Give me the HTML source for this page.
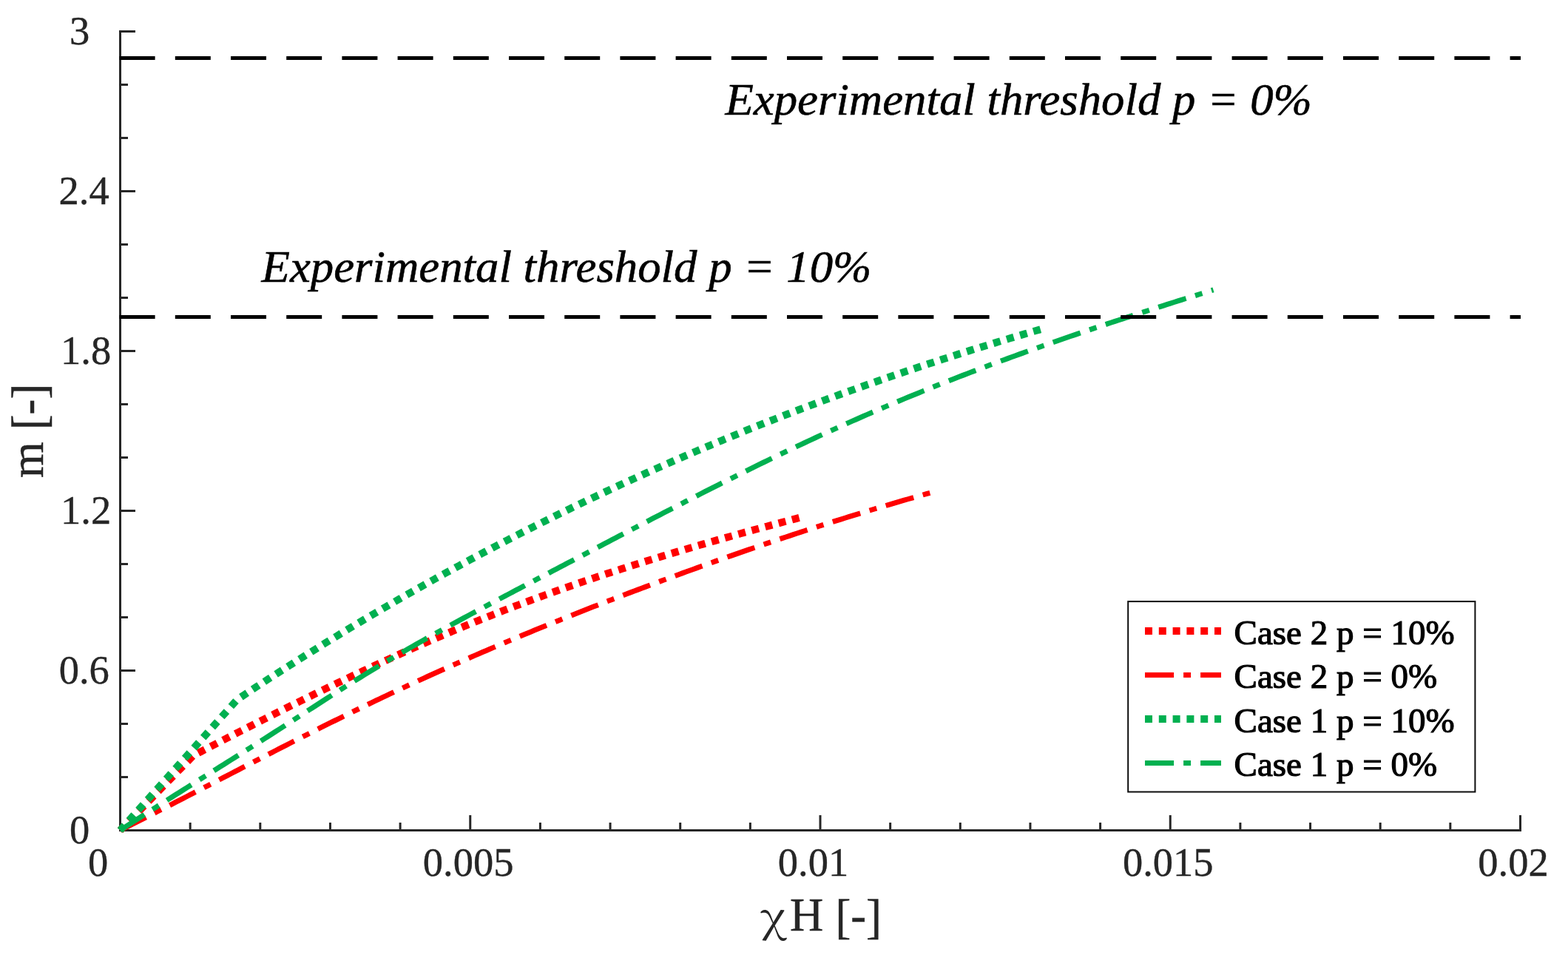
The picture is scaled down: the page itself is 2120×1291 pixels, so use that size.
<!DOCTYPE html>
<html><head><meta charset="utf-8"><title>m vs chiH</title>
<style>html,body{margin:0;padding:0;background:#fff;overflow:hidden}svg{display:block}</style></head>
<body><svg width="2120" height="1291" viewBox="0 0 2120 1291">
<rect width="2120" height="1291" fill="#fff"/>
<g font-family="'Liberation Serif', 'Times New Roman', serif">
<line x1="162.5" y1="42.5" x2="183" y2="42.5" stroke="#262626" stroke-width="3"/>
<line x1="162.5" y1="258.5" x2="183" y2="258.5" stroke="#262626" stroke-width="3"/>
<line x1="162.5" y1="474.5" x2="183" y2="474.5" stroke="#262626" stroke-width="3"/>
<line x1="162.5" y1="690.5" x2="183" y2="690.5" stroke="#262626" stroke-width="3"/>
<line x1="162.5" y1="906.5" x2="183" y2="906.5" stroke="#262626" stroke-width="3"/>
<line x1="162.5" y1="1122.5" x2="183" y2="1122.5" stroke="#262626" stroke-width="3"/>
<line x1="162.5" y1="114.5" x2="173" y2="114.5" stroke="#262626" stroke-width="3"/>
<line x1="162.5" y1="186.5" x2="173" y2="186.5" stroke="#262626" stroke-width="3"/>
<line x1="162.5" y1="330.5" x2="173" y2="330.5" stroke="#262626" stroke-width="3"/>
<line x1="162.5" y1="402.5" x2="173" y2="402.5" stroke="#262626" stroke-width="3"/>
<line x1="162.5" y1="546.5" x2="173" y2="546.5" stroke="#262626" stroke-width="3"/>
<line x1="162.5" y1="618.5" x2="173" y2="618.5" stroke="#262626" stroke-width="3"/>
<line x1="162.5" y1="762.5" x2="173" y2="762.5" stroke="#262626" stroke-width="3"/>
<line x1="162.5" y1="834.5" x2="173" y2="834.5" stroke="#262626" stroke-width="3"/>
<line x1="162.5" y1="978.5" x2="173" y2="978.5" stroke="#262626" stroke-width="3"/>
<line x1="162.5" y1="1050.5" x2="173" y2="1050.5" stroke="#262626" stroke-width="3"/>
<line x1="162.50" y1="1122.5" x2="162.50" y2="1102" stroke="#262626" stroke-width="3"/>
<line x1="257.15" y1="1122.5" x2="257.15" y2="1112" stroke="#262626" stroke-width="3"/>
<line x1="351.80" y1="1122.5" x2="351.80" y2="1112" stroke="#262626" stroke-width="3"/>
<line x1="446.45" y1="1122.5" x2="446.45" y2="1112" stroke="#262626" stroke-width="3"/>
<line x1="541.10" y1="1122.5" x2="541.10" y2="1112" stroke="#262626" stroke-width="3"/>
<line x1="635.75" y1="1122.5" x2="635.75" y2="1102" stroke="#262626" stroke-width="3"/>
<line x1="730.40" y1="1122.5" x2="730.40" y2="1112" stroke="#262626" stroke-width="3"/>
<line x1="825.05" y1="1122.5" x2="825.05" y2="1112" stroke="#262626" stroke-width="3"/>
<line x1="919.70" y1="1122.5" x2="919.70" y2="1112" stroke="#262626" stroke-width="3"/>
<line x1="1014.35" y1="1122.5" x2="1014.35" y2="1112" stroke="#262626" stroke-width="3"/>
<line x1="1109.00" y1="1122.5" x2="1109.00" y2="1102" stroke="#262626" stroke-width="3"/>
<line x1="1203.65" y1="1122.5" x2="1203.65" y2="1112" stroke="#262626" stroke-width="3"/>
<line x1="1298.30" y1="1122.5" x2="1298.30" y2="1112" stroke="#262626" stroke-width="3"/>
<line x1="1392.95" y1="1122.5" x2="1392.95" y2="1112" stroke="#262626" stroke-width="3"/>
<line x1="1487.60" y1="1122.5" x2="1487.60" y2="1112" stroke="#262626" stroke-width="3"/>
<line x1="1582.25" y1="1122.5" x2="1582.25" y2="1102" stroke="#262626" stroke-width="3"/>
<line x1="1676.90" y1="1122.5" x2="1676.90" y2="1112" stroke="#262626" stroke-width="3"/>
<line x1="1771.55" y1="1122.5" x2="1771.55" y2="1112" stroke="#262626" stroke-width="3"/>
<line x1="1866.20" y1="1122.5" x2="1866.20" y2="1112" stroke="#262626" stroke-width="3"/>
<line x1="1960.85" y1="1122.5" x2="1960.85" y2="1112" stroke="#262626" stroke-width="3"/>
<line x1="2055.50" y1="1122.5" x2="2055.50" y2="1102" stroke="#262626" stroke-width="3"/>
<line x1="162.5" y1="41" x2="162.5" y2="1124" stroke="#262626" stroke-width="3"/>
<line x1="161" y1="1122.5" x2="2057" y2="1122.5" stroke="#262626" stroke-width="3"/>
<path d="M162.50 1122.50 L261.31 1021.42 L266.31 1018.81 L271.31 1016.20 L276.31 1013.60 L281.31 1011.01 L286.31 1008.42 L291.31 1005.83 L296.31 1003.24 L301.31 1000.66 L306.31 998.09 L311.31 995.51 L316.31 992.95 L321.31 990.38 L326.31 987.83 L331.31 985.27 L336.31 982.73 L341.31 980.18 L346.31 977.65 L351.31 975.11 L356.31 972.59 L361.31 970.07 L366.31 967.55 L371.31 965.04 L376.31 962.54 L381.31 960.04 L386.31 957.55 L391.31 955.06 L396.31 952.58 L401.31 950.11 L406.31 947.64 L411.31 945.18 L416.31 942.73 L421.31 940.28 L426.31 937.84 L431.31 935.41 L436.31 932.98 L441.31 930.57 L446.31 928.16 L451.31 925.75 L456.31 923.36 L461.31 920.97 L466.31 918.59 L471.31 916.22 L476.31 913.85 L481.31 911.50 L486.31 909.15 L491.31 906.81 L496.31 904.48 L501.31 902.16 L506.31 899.84 L511.31 897.54 L516.31 895.24 L521.31 892.96 L526.31 890.68 L531.31 888.41 L536.31 886.15 L541.31 883.90 L546.31 881.66 L551.31 879.43 L556.31 877.21 L561.31 875.00 L566.31 872.80 L571.31 870.61 L576.31 868.43 L581.31 866.26 L586.31 864.10 L591.31 861.95 L596.31 859.81 L601.31 857.69 L606.31 855.57 L611.31 853.46 L616.31 851.37 L621.31 849.29 L626.31 847.22 L631.31 845.15 L636.31 843.11 L641.31 841.07 L646.31 839.04 L651.31 837.03 L656.31 835.03 L661.31 833.04 L666.31 831.06 L671.31 829.10 L676.31 827.14 L681.31 825.20 L686.31 823.27 L691.31 821.36 L696.31 819.45 L701.31 817.56 L706.31 815.67 L711.31 813.80 L716.31 811.94 L721.31 810.09 L726.31 808.26 L731.31 806.43 L736.31 804.62 L741.31 802.81 L746.31 801.02 L751.31 799.23 L756.31 797.46 L761.31 795.70 L766.31 793.94 L771.31 792.20 L776.31 790.47 L781.31 788.75 L786.31 787.03 L791.31 785.33 L796.31 783.64 L801.31 781.95 L806.31 780.28 L811.31 778.62 L816.31 776.96 L821.31 775.31 L826.31 773.68 L831.31 772.05 L836.31 770.43 L841.31 768.82 L846.31 767.21 L851.31 765.62 L856.31 764.04 L861.31 762.46 L866.31 760.89 L871.31 759.33 L876.31 757.78 L881.31 756.23 L886.31 754.69 L891.31 753.17 L896.31 751.64 L901.31 750.13 L906.31 748.62 L911.31 747.12 L916.31 745.63 L921.31 744.15 L926.31 742.67 L931.31 741.20 L936.31 739.73 L941.31 738.27 L946.31 736.82 L951.31 735.38 L956.31 733.94 L961.31 732.51 L966.31 731.08 L971.31 729.66 L976.31 728.25 L981.31 726.84 L986.31 725.44 L991.31 724.04 L996.31 722.65 L1001.31 721.26 L1006.31 719.88 L1011.31 718.51 L1016.31 717.14 L1021.31 715.77 L1026.31 714.41 L1031.31 713.06 L1036.31 711.71 L1041.31 710.36 L1046.31 709.02 L1051.31 707.68 L1056.31 706.35 L1061.31 705.02 L1066.31 703.70 L1071.31 702.38 L1076.31 701.06 L1081.31 699.75 L1081.50 699.70" fill="none" stroke="#ff0000" stroke-width="10" stroke-dasharray="10 8.8" stroke-dashoffset="1.4" stroke-linejoin="miter"/>
<path d="M162.50 1122.50 L167.50 1119.91 L172.50 1117.42 L177.50 1114.92 L182.50 1112.41 L187.50 1109.90 L192.50 1107.38 L197.50 1104.85 L202.50 1102.32 L207.50 1099.79 L212.50 1097.24 L217.50 1094.70 L222.50 1092.15 L227.50 1089.59 L232.50 1087.03 L237.50 1084.47 L242.50 1081.90 L247.50 1079.33 L252.50 1076.76 L257.50 1074.18 L262.50 1071.61 L267.50 1069.03 L272.50 1066.44 L277.50 1063.86 L282.50 1061.27 L287.50 1058.68 L292.50 1056.10 L297.50 1053.51 L302.50 1050.92 L307.50 1048.33 L312.50 1045.74 L317.50 1043.15 L322.50 1040.56 L327.50 1037.97 L332.50 1035.38 L337.50 1032.80 L342.50 1030.21 L347.50 1027.63 L352.50 1025.05 L357.50 1022.47 L362.50 1019.89 L367.50 1017.32 L372.50 1014.75 L377.50 1012.18 L382.50 1009.62 L387.50 1007.06 L392.50 1004.50 L397.50 1001.95 L402.50 999.41 L407.50 996.86 L412.50 994.33 L417.50 991.80 L422.50 989.27 L427.50 986.75 L432.50 984.24 L437.50 981.73 L442.50 979.23 L447.50 976.73 L452.50 974.25 L457.50 971.77 L462.50 969.30 L467.50 966.83 L472.50 964.38 L477.50 961.93 L482.50 959.49 L487.50 957.06 L492.50 954.64 L497.50 952.23 L502.50 949.82 L507.50 947.43 L512.50 945.04 L517.50 942.66 L522.50 940.29 L527.50 937.93 L532.50 935.58 L537.50 933.24 L542.50 930.90 L547.50 928.57 L552.50 926.25 L557.50 923.94 L562.50 921.64 L567.50 919.35 L572.50 917.06 L577.50 914.78 L582.50 912.51 L587.50 910.25 L592.50 908.00 L597.50 905.75 L602.50 903.51 L607.50 901.28 L612.50 899.06 L617.50 896.85 L622.50 894.64 L627.50 892.44 L632.50 890.25 L637.50 888.07 L642.50 885.89 L647.50 883.72 L652.50 881.56 L657.50 879.41 L662.50 877.27 L667.50 875.13 L672.50 873.00 L677.50 870.88 L682.50 868.76 L687.50 866.65 L692.50 864.55 L697.50 862.46 L702.50 860.37 L707.50 858.29 L712.50 856.22 L717.50 854.16 L722.50 852.10 L727.50 850.05 L732.50 848.00 L737.50 845.97 L742.50 843.94 L747.50 841.92 L752.50 839.90 L757.50 837.89 L762.50 835.89 L767.50 833.89 L772.50 831.90 L777.50 829.92 L782.50 827.94 L787.50 825.97 L792.50 824.01 L797.50 822.05 L802.50 820.10 L807.50 818.15 L812.50 816.21 L817.50 814.28 L822.50 812.35 L827.50 810.42 L832.50 808.51 L837.50 806.59 L842.50 804.69 L847.50 802.79 L852.50 800.89 L857.50 799.00 L862.50 797.11 L867.50 795.23 L872.50 793.36 L877.50 791.49 L882.50 789.62 L887.50 787.76 L892.50 785.90 L897.50 784.05 L902.50 782.20 L907.50 780.36 L912.50 778.52 L917.50 776.69 L922.50 774.86 L927.50 773.04 L932.50 771.23 L937.50 769.42 L942.50 767.61 L947.50 765.81 L952.50 764.01 L957.50 762.23 L962.50 760.44 L967.50 758.66 L972.50 756.89 L977.50 755.12 L982.50 753.36 L987.50 751.61 L992.50 749.86 L997.50 748.11 L1002.50 746.37 L1007.50 744.64 L1012.50 742.92 L1017.50 741.20 L1022.50 739.48 L1027.50 737.77 L1032.50 736.07 L1037.50 734.37 L1042.50 732.68 L1047.50 731.00 L1052.50 729.32 L1057.50 727.65 L1062.50 725.99 L1067.50 724.33 L1072.50 722.68 L1077.50 721.03 L1082.50 719.39 L1087.50 717.76 L1092.50 716.13 L1097.50 714.51 L1102.50 712.90 L1107.50 711.29 L1112.50 709.69 L1117.50 708.10 L1122.50 706.51 L1127.50 704.93 L1132.50 703.36 L1137.50 701.79 L1142.50 700.23 L1147.50 698.68 L1152.50 697.13 L1157.50 695.59 L1162.50 694.06 L1167.50 692.54 L1172.50 691.02 L1177.50 689.51 L1182.50 688.00 L1187.50 686.50 L1192.50 685.01 L1197.50 683.53 L1202.50 682.05 L1207.50 680.58 L1212.50 679.11 L1217.50 677.66 L1222.50 676.21 L1227.50 674.76 L1232.50 673.33 L1237.50 671.90 L1242.50 670.48 L1247.50 669.06 L1252.50 667.65 L1257.50 666.25" fill="none" stroke="#ff0000" stroke-width="7" stroke-dasharray="39.1 13 10 13" stroke-linejoin="miter"/>
<path d="M162.50 1122.50 L320.63 945.71 L325.63 942.39 L330.63 939.07 L335.63 935.77 L340.63 932.47 L345.63 929.19 L350.63 925.92 L355.63 922.66 L360.63 919.41 L365.63 916.17 L370.63 912.94 L375.63 909.72 L380.63 906.51 L385.63 903.32 L390.63 900.13 L395.63 896.95 L400.63 893.79 L405.63 890.64 L410.63 887.49 L415.63 884.36 L420.63 881.24 L425.63 878.13 L430.63 875.02 L435.63 871.93 L440.63 868.85 L445.63 865.78 L450.63 862.72 L455.63 859.68 L460.63 856.64 L465.63 853.61 L470.63 850.59 L475.63 847.58 L480.63 844.59 L485.63 841.60 L490.63 838.62 L495.63 835.66 L500.63 832.70 L505.63 829.76 L510.63 826.82 L515.63 823.89 L520.63 820.98 L525.63 818.07 L530.63 815.18 L535.63 812.29 L540.63 809.42 L545.63 806.55 L550.63 803.70 L555.63 800.85 L560.63 798.02 L565.63 795.20 L570.63 792.38 L575.63 789.58 L580.63 786.78 L585.63 784.00 L590.63 781.22 L595.63 778.45 L600.63 775.70 L605.63 772.95 L610.63 770.22 L615.63 767.49 L620.63 764.77 L625.63 762.07 L630.63 759.37 L635.63 756.68 L640.63 754.01 L645.63 751.34 L650.63 748.68 L655.63 746.03 L660.63 743.39 L665.63 740.76 L670.63 738.14 L675.63 735.53 L680.63 732.93 L685.63 730.34 L690.63 727.75 L695.63 725.18 L700.63 722.62 L705.63 720.06 L710.63 717.52 L715.63 714.98 L720.63 712.46 L725.63 709.94 L730.63 707.43 L735.63 704.94 L740.63 702.45 L745.63 699.97 L750.63 697.50 L755.63 695.04 L760.63 692.58 L765.63 690.14 L770.63 687.71 L775.63 685.28 L780.63 682.87 L785.63 680.46 L790.63 678.06 L795.63 675.67 L800.63 673.30 L805.63 670.92 L810.63 668.56 L815.63 666.21 L820.63 663.87 L825.63 661.53 L830.63 659.21 L835.63 656.89 L840.63 654.58 L845.63 652.28 L850.63 649.99 L855.63 647.71 L860.63 645.44 L865.63 643.17 L870.63 640.92 L875.63 638.67 L880.63 636.43 L885.63 634.20 L890.63 631.98 L895.63 629.77 L900.63 627.56 L905.63 625.37 L910.63 623.18 L915.63 621.01 L920.63 618.84 L925.63 616.67 L930.63 614.52 L935.63 612.38 L940.63 610.24 L945.63 608.11 L950.63 606.00 L955.63 603.89 L960.63 601.78 L965.63 599.69 L970.63 597.60 L975.63 595.53 L980.63 593.46 L985.63 591.40 L990.63 589.34 L995.63 587.30 L1000.63 585.26 L1005.63 583.23 L1010.63 581.22 L1015.63 579.20 L1020.63 577.20 L1025.63 575.20 L1030.63 573.22 L1035.63 571.24 L1040.63 569.27 L1045.63 567.30 L1050.63 565.35 L1055.63 563.40 L1060.63 561.46 L1065.63 559.53 L1070.63 557.60 L1075.63 555.69 L1080.63 553.78 L1085.63 551.88 L1090.63 549.99 L1095.63 548.10 L1100.63 546.23 L1105.63 544.36 L1110.63 542.49 L1115.63 540.64 L1120.63 538.79 L1125.63 536.96 L1130.63 535.13 L1135.63 533.30 L1140.63 531.49 L1145.63 529.68 L1150.63 527.88 L1155.63 526.09 L1160.63 524.30 L1165.63 522.52 L1170.63 520.75 L1175.63 518.99 L1180.63 517.23 L1185.63 515.49 L1190.63 513.75 L1195.63 512.01 L1200.63 510.29 L1205.63 508.57 L1210.63 506.86 L1215.63 505.15 L1220.63 503.46 L1225.63 501.77 L1230.63 500.09 L1235.63 498.41 L1240.63 496.74 L1245.63 495.08 L1250.63 493.43 L1255.63 491.78 L1260.63 490.14 L1265.63 488.51 L1270.63 486.89 L1275.63 485.27 L1280.63 483.66 L1285.63 482.05 L1290.63 480.46 L1295.63 478.87 L1300.63 477.28 L1305.63 475.71 L1310.63 474.14 L1315.63 472.58 L1320.63 471.02 L1325.63 469.47 L1330.63 467.93 L1335.63 466.40 L1340.63 464.87 L1345.63 463.35 L1350.63 461.83 L1355.63 460.32 L1360.63 458.82 L1365.63 457.33 L1370.63 455.84 L1375.63 454.36 L1380.63 452.88 L1385.63 451.42 L1390.63 449.96 L1395.63 448.50 L1400.63 447.05 L1405.63 445.61 L1407.50 445.07" fill="none" stroke="#00b050" stroke-width="10" stroke-dasharray="10 8.8" stroke-dashoffset="0.9" stroke-linejoin="miter"/>
<path d="M162.50 1122.50 L167.50 1119.13 L172.50 1115.88 L177.50 1112.65 L182.50 1109.41 L187.50 1106.19 L192.50 1102.98 L197.50 1099.77 L202.50 1096.57 L207.50 1093.38 L212.50 1090.19 L217.50 1087.01 L222.50 1083.83 L227.50 1080.66 L232.50 1077.49 L237.50 1074.33 L242.50 1071.17 L247.50 1068.02 L252.50 1064.87 L257.50 1061.72 L262.50 1058.57 L267.50 1055.42 L272.50 1052.28 L277.50 1049.14 L282.50 1045.99 L287.50 1042.85 L292.50 1039.71 L297.50 1036.56 L302.50 1033.42 L307.50 1030.27 L312.50 1027.12 L317.50 1023.97 L322.50 1020.82 L327.50 1017.66 L332.50 1014.50 L337.50 1011.34 L342.50 1008.17 L347.50 1005.00 L352.50 1001.82 L357.50 998.64 L362.50 995.45 L367.50 992.25 L372.50 989.05 L377.50 985.84 L382.50 982.62 L387.50 979.39 L392.50 976.16 L397.50 972.92 L402.50 969.68 L407.50 966.43 L412.50 963.19 L417.50 959.94 L422.50 956.70 L427.50 953.46 L432.50 950.23 L437.50 947.00 L442.50 943.78 L447.50 940.58 L452.50 937.38 L457.50 934.20 L462.50 931.03 L467.50 927.88 L472.50 924.75 L477.50 921.63 L482.50 918.53 L487.50 915.44 L492.50 912.37 L497.50 909.32 L502.50 906.29 L507.50 903.27 L512.50 900.26 L517.50 897.28 L522.50 894.30 L527.50 891.35 L532.50 888.41 L537.50 885.48 L542.50 882.58 L547.50 879.68 L552.50 876.81 L557.50 873.94 L562.50 871.10 L567.50 868.26 L572.50 865.44 L577.50 862.63 L582.50 859.84 L587.50 857.05 L592.50 854.28 L597.50 851.52 L602.50 848.77 L607.50 846.03 L612.50 843.30 L617.50 840.58 L622.50 837.87 L627.50 835.17 L632.50 832.47 L637.50 829.79 L642.50 827.11 L647.50 824.43 L652.50 821.77 L657.50 819.11 L662.50 816.45 L667.50 813.80 L672.50 811.15 L677.50 808.51 L682.50 805.87 L687.50 803.24 L692.50 800.60 L697.50 797.97 L702.50 795.34 L707.50 792.71 L712.50 790.09 L717.50 787.46 L722.50 784.83 L727.50 782.21 L732.50 779.58 L737.50 776.95 L742.50 774.32 L747.50 771.69 L752.50 769.07 L757.50 766.44 L762.50 763.81 L767.50 761.18 L772.50 758.55 L777.50 755.92 L782.50 753.29 L787.50 750.66 L792.50 748.04 L797.50 745.41 L802.50 742.78 L807.50 740.16 L812.50 737.53 L817.50 734.91 L822.50 732.29 L827.50 729.67 L832.50 727.05 L837.50 724.44 L842.50 721.82 L847.50 719.21 L852.50 716.60 L857.50 713.99 L862.50 711.38 L867.50 708.77 L872.50 706.17 L877.50 703.57 L882.50 700.97 L887.50 698.38 L892.50 695.79 L897.50 693.20 L902.50 690.61 L907.50 688.03 L912.50 685.45 L917.50 682.87 L922.50 680.30 L927.50 677.73 L932.50 675.17 L937.50 672.61 L942.50 670.05 L947.50 667.50 L952.50 664.95 L957.50 662.41 L962.50 659.87 L967.50 657.34 L972.50 654.82 L977.50 652.30 L982.50 649.78 L987.50 647.28 L992.50 644.77 L997.50 642.28 L1002.50 639.79 L1007.50 637.31 L1012.50 634.84 L1017.50 632.37 L1022.50 629.91 L1027.50 627.46 L1032.50 625.02 L1037.50 622.58 L1042.50 620.15 L1047.50 617.74 L1052.50 615.33 L1057.50 612.93 L1062.50 610.53 L1067.50 608.15 L1072.50 605.78 L1077.50 603.41 L1082.50 601.06 L1087.50 598.72 L1092.50 596.38 L1097.50 594.06 L1102.50 591.75 L1107.50 589.44 L1112.50 587.15 L1117.50 584.86 L1122.50 582.59 L1127.50 580.32 L1132.50 578.07 L1137.50 575.82 L1142.50 573.59 L1147.50 571.36 L1152.50 569.15 L1157.50 566.94 L1162.50 564.74 L1167.50 562.55 L1172.50 560.38 L1177.50 558.21 L1182.50 556.05 L1187.50 553.90 L1192.50 551.76 L1197.50 549.64 L1202.50 547.52 L1207.50 545.41 L1212.50 543.31 L1217.50 541.21 L1222.50 539.13 L1227.50 537.06 L1232.50 535.00 L1237.50 532.95 L1242.50 530.90 L1247.50 528.87 L1252.50 526.85 L1257.50 524.83 L1262.50 522.83 L1267.50 520.83 L1272.50 518.85 L1277.50 516.87 L1282.50 514.90 L1287.50 512.94 L1292.50 511.00 L1297.50 509.06 L1302.50 507.12 L1307.50 505.20 L1312.50 503.29 L1317.50 501.38 L1322.50 499.49 L1327.50 497.60 L1332.50 495.72 L1337.50 493.84 L1342.50 491.98 L1347.50 490.12 L1352.50 488.28 L1357.50 486.44 L1362.50 484.60 L1367.50 482.78 L1372.50 480.96 L1377.50 479.15 L1382.50 477.35 L1387.50 475.55 L1392.50 473.76 L1397.50 471.98 L1402.50 470.21 L1407.50 468.44 L1412.50 466.68 L1417.50 464.92 L1422.50 463.18 L1427.50 461.44 L1432.50 459.70 L1437.50 457.97 L1442.50 456.25 L1447.50 454.53 L1452.50 452.82 L1457.50 451.12 L1462.50 449.42 L1467.50 447.72 L1472.50 446.04 L1477.50 444.35 L1482.50 442.68 L1487.50 441.00 L1492.50 439.34 L1497.50 437.68 L1502.50 436.02 L1507.50 434.37 L1512.50 432.72 L1517.50 431.08 L1522.50 429.44 L1527.50 427.81 L1532.50 426.18 L1537.50 424.55 L1542.50 422.93 L1547.50 421.32 L1552.50 419.71 L1557.50 418.10 L1562.50 416.49 L1567.50 414.89 L1572.50 413.30 L1577.50 411.70 L1582.50 410.11 L1587.50 408.53 L1592.50 406.94 L1597.50 405.36 L1602.50 403.78 L1607.50 402.21 L1612.50 400.64 L1617.50 399.07 L1622.50 397.50 L1627.50 395.94 L1632.50 394.38 L1637.50 392.82 L1640.50 391.88" fill="none" stroke="#00b050" stroke-width="7" stroke-dasharray="39.1 13 10 13" stroke-linejoin="miter"/>
<line x1="161.6" y1="78.5" x2="2056" y2="78.5" stroke="#000" stroke-width="5" stroke-dasharray="48 27.2"/>
<line x1="161.6" y1="428.5" x2="2056" y2="428.5" stroke="#000" stroke-width="5" stroke-dasharray="48 27.2"/>
<text x="94.08" y="60.40" font-size="54.5" fill="#262626" stroke="#262626" stroke-width="0.4" text-anchor="start" style="" >3</text>
<text x="79.60" y="276.20" font-size="54.5" fill="#262626" stroke="#262626" stroke-width="0.4" text-anchor="start" style="" >2.4</text>
<text x="82.10" y="492.40" font-size="54.5" fill="#262626" stroke="#262626" stroke-width="0.4" text-anchor="start" style="" >1.8</text>
<text x="82.10" y="708.30" font-size="54.5" fill="#262626" stroke="#262626" stroke-width="0.4" text-anchor="start" style="" >1.2</text>
<text x="79.73" y="924.40" font-size="54.5" fill="#262626" stroke="#262626" stroke-width="0.4" text-anchor="start" style="" >0.6</text>
<text x="93.93" y="1140.30" font-size="54.5" fill="#262626" stroke="#262626" stroke-width="0.4" text-anchor="start" style="" >0</text>
<text x="118.93" y="1184.20" font-size="54.5" fill="#262626" stroke="#262626" stroke-width="0.4" text-anchor="start" style="" >0</text>
<text x="571.83" y="1184.20" font-size="54.5" fill="#262626" stroke="#262626" stroke-width="0.4" text-anchor="start" style="" >0.005</text>
<text x="1051.83" y="1184.20" font-size="54.5" fill="#262626" stroke="#262626" stroke-width="0.4" text-anchor="start" style="" >0.01</text>
<text x="1517.93" y="1184.20" font-size="54.5" fill="#262626" stroke="#262626" stroke-width="0.4" text-anchor="start" style="" >0.015</text>
<text x="1998.33" y="1184.20" font-size="54.5" fill="#262626" stroke="#262626" stroke-width="0.4" text-anchor="start" style="" >0.02</text>
<text x="1068.10" y="1258.00" font-size="62.6" fill="#262626" stroke="#262626" stroke-width="0.5">H</text>
<text transform="translate(1129.40 1261.25) scale(1 1.042)" x="0" y="0" font-size="62.6" fill="#262626" stroke="#262626" stroke-width="0.5">[<tspan dy="-2.5">-</tspan><tspan dy="2.5">]</tspan></text>
<text transform="translate(1028.00 1260.40) scale(1.15 1)" x="0" y="0" font-size="56" fill="#262626" font-family="'Noto Serif CJK SC', serif">χ</text>
<text transform="translate(57.90 646.00) rotate(-90)" x="0" y="0" font-size="62.6" fill="#262626" stroke="#262626" stroke-width="0.5">m</text>
<text transform="translate(61.15 581.30) rotate(-90) scale(1 1.042)" x="0" y="0" font-size="62.6" fill="#262626" stroke="#262626" stroke-width="0.5">[<tspan dy="-2.5">-</tspan><tspan dy="2.5">]</tspan></text>
<text transform="translate(980.50 155.00) scale(1 0.965)" x="0" y="0" font-size="62.8" fill="#000" stroke="#000" stroke-width="0.6" style="font-style:italic">Experimental threshold p = 0%</text>
<text transform="translate(353.60 381.00) scale(1 0.965)" x="0" y="0" font-size="62.8" fill="#000" stroke="#000" stroke-width="0.6" style="font-style:italic">Experimental threshold p = 10%</text>
<rect x="1525.2" y="813.1" width="469.2" height="257.4" fill="#fff" stroke="#0d0d0d" stroke-width="2"/>
<line x1="1548" y1="853" x2="1651" y2="853" stroke="#ff0000" stroke-width="10" stroke-dasharray="10 8.8"/>
<text x="1668.60" y="870.75" font-size="47" fill="#000" stroke="#000" stroke-width="1.2" text-anchor="start" style="" >Case 2 p = 10%</text>
<line x1="1548" y1="912.5" x2="1651" y2="912.5" stroke="#ff0000" stroke-width="7" stroke-dasharray="39.1 13 10 13"/>
<text x="1668.60" y="930.25" font-size="47" fill="#000" stroke="#000" stroke-width="1.2" text-anchor="start" style="" >Case 2 p = 0%</text>
<line x1="1548" y1="972" x2="1651" y2="972" stroke="#00b050" stroke-width="10" stroke-dasharray="10 8.8"/>
<text x="1668.60" y="989.75" font-size="47" fill="#000" stroke="#000" stroke-width="1.2" text-anchor="start" style="" >Case 1 p = 10%</text>
<line x1="1548" y1="1031.5" x2="1651" y2="1031.5" stroke="#00b050" stroke-width="7" stroke-dasharray="39.1 13 10 13"/>
<text x="1668.60" y="1049.25" font-size="47" fill="#000" stroke="#000" stroke-width="1.2" text-anchor="start" style="" >Case 1 p = 0%</text>
</g>
</svg></body></html>
